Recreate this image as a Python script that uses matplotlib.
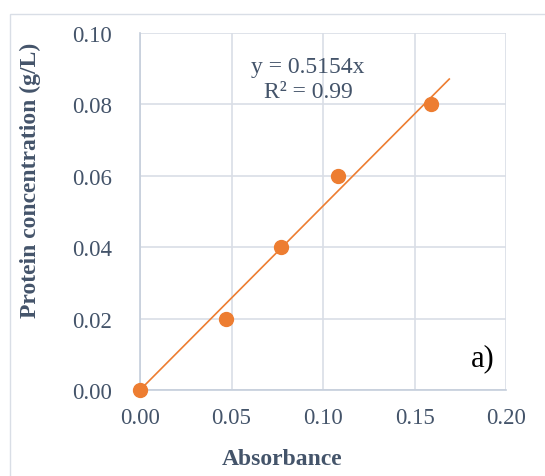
import matplotlib.pyplot as plt
from matplotlib.patches import Rectangle

# Данные калибровочной кривой
absorbance = [0.0, 0.047, 0.077, 0.108, 0.159]
concentration = [0.0, 0.02, 0.04, 0.06, 0.08]
slope = 0.5154
r2 = 0.99
fit_x = [0.0, 0.169]

x_ticks = [0.00, 0.05, 0.10, 0.15, 0.20]
y_ticks = [0.00, 0.02, 0.04, 0.06, 0.08, 0.10]

orange = '#ED7D31'
text_col = '#44546A'
grid_col = '#D9DEE6'

plt.rcParams['font.family'] = ['Liberation Serif', 'DejaVu Serif']

fig = plt.figure(figsize=(5.45, 4.77), dpi=100)
ax = fig.add_axes([140 / 545, 1 - 391 / 477, 366 / 545, 357 / 477])

# внешняя рамка
fig.patches.append(Rectangle((9.5 / 545, -0.1), 1.2, 1 - 14.5 / 477 + 0.1,
                             transform=fig.transFigure, fill=False,
                             edgecolor=grid_col, linewidth=1.0))

fit_y = [slope * v for v in fit_x]
ax.plot(fit_x, fit_y, '-', color=orange, linewidth=1.2, zorder=3)
ax.plot(absorbance, concentration, 'o', color=orange, markersize=10, zorder=4,
        clip_on=False)

ax.set_xlim(0, 0.20)
ax.set_ylim(0, 0.10)
ax.set_xticks(x_ticks)
ax.set_yticks(y_ticks)
ax.set_xticklabels([f'{v:.2f}' for v in x_ticks])
ax.set_yticklabels([f'{v:.2f}' for v in y_ticks])
ax.tick_params(axis='both', length=0, labelsize=16.5, labelcolor=text_col)
ax.tick_params(axis='x', pad=12)
ax.tick_params(axis='y', pad=20)

ax.grid(True, color=grid_col, linewidth=1.2)
ax.set_axisbelow(True)
for side in ['top', 'right']:
    ax.spines[side].set_visible(False)
for side in ['left', 'bottom']:
    ax.spines[side].set_color('#C5CEDB')
    ax.spines[side].set_linewidth(1.2)

ax.text(0.459, 0.905, f'y = {slope}x', transform=ax.transAxes, ha='center',
        va='center', fontsize=17, color=text_col)
ax.text(0.459, 0.835, f'R² = {r2}', transform=ax.transAxes, ha='center',
        va='center', fontsize=17, color=text_col)
ax.text(0.937, 0.09, 'a)', transform=ax.transAxes, ha='center', va='center',
        fontsize=22, color='black')

fig.text(282 / 545, 1 - 460 / 477, 'Absorbance', ha='center', va='center',
         fontsize=17, fontweight='bold', color=text_col)
fig.text(30 / 545, 1 - 180 / 477, 'Protein concentration (g/L)', ha='center',
         va='center', rotation=90, fontsize=17, fontweight='bold', color=text_col)

plt.savefig('out.png', dpi=100)
